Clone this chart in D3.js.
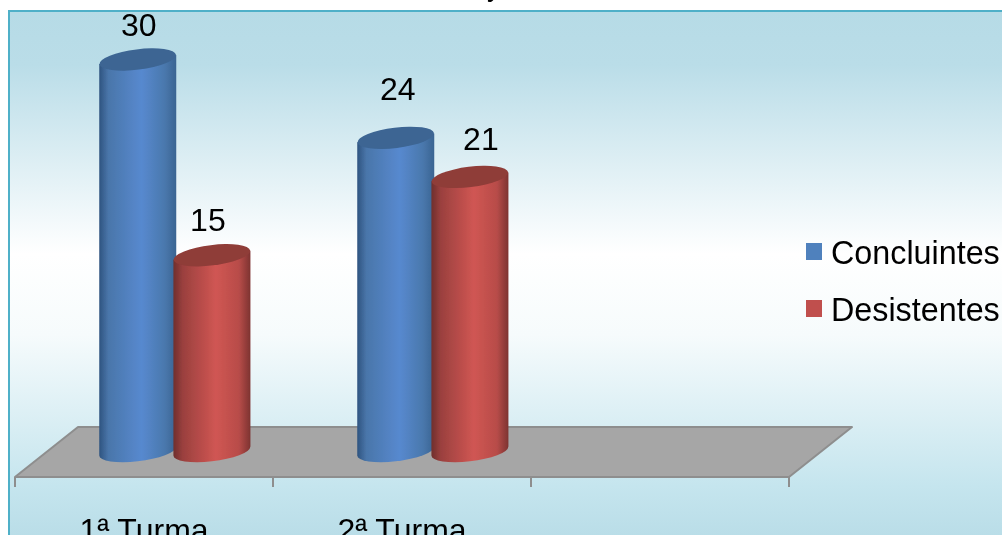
<!DOCTYPE html>
<html><head><meta charset="utf-8">
<script src="https://cdn.jsdelivr.net/npm/d3@7/dist/d3.min.js"></script>
<style>html,body{margin:0;padding:0;background:#fff;overflow:hidden}svg{display:block}text{font-family:"Liberation Sans",Arial,sans-serif;fill:#000}</style>
</head><body><svg id="c" width="1002" height="535"></svg>
<script>
const categories = ["1ª Turma", "2ª Turma", ""];
const seriesNames = ["Concluintes", "Desistentes"];
const concluintes = [30, 24];
const desistentes = [15, 21];
const seriesValues = [concluintes, desistentes];
const titleFragment = "y";
const bodyStops = [0, 0.12, 0.55, 0.85, 1];
const bodyColors = [["#2f5480", "#4a76aa", "#5789cf", "#4a78ad", "#3a6492"], ["#6f2e2c", "#9a403e", "#d05653", "#b84c49", "#7d3331"]];
const topColors = ["#3c6593", "#8f3c39"];
const legendColors = ["#4f81bd", "#c0504d"];
const labelShift = [[[1, -24], [2, -38]], [[-4, -24], [11, -27]]];

const svg = d3.select("#c");
const defs = svg.append("defs");
const bg = defs.append("linearGradient").attr("id", "bg").attr("x1", 0).attr("y1", 0).attr("x2", 0).attr("y2", 1);
[[0, "#b6dbe6"], [0.1, "#badde8"], [0.45, "#ffffff"], [0.6, "#f6fbfc"], [0.88, "#c5e5ee"], [1, "#b6dbe6"]]
  .forEach(([o, c]) => bg.append("stop").attr("offset", o).attr("stop-color", c));
bodyColors.forEach((cols, i) => {
  const g = defs.append("linearGradient").attr("id", "body" + i);
  cols.forEach((c, j) => g.append("stop").attr("offset", bodyStops[j]).attr("stop-color", c));
});
defs.append("filter").attr("id", "soft").attr("x", "-5%").attr("y", "-5%").attr("width", "110%").attr("height", "110%")
  .append("feGaussianBlur").attr("stdDeviation", 0.6);

svg.append("text").attr("x", 487).attr("y", -4).style("font-size", "28px").attr("filter", "url(#soft)").text(titleFragment);

svg.append("rect").attr("x", 9).attr("y", 11).attr("width", 1000).attr("height", 540)
  .attr("fill", "url(#bg)").attr("stroke", "#4fb0c8").attr("stroke-width", 2);

const x = d3.scaleBand().domain(categories).range([15, 789]);
const inner = d3.scaleBand().domain(seriesNames).range([x.bandwidth() * 0.332, x.bandwidth() * 0.907]);
const y = d3.scaleLinear().domain([0, 30]).range([451, 59.5]);

const chart = svg.append("g").attr("filter", "url(#soft)");
const depthX = 63, depthY = 50, floorY = 477;
const [x0, x1] = x.range();
chart.append("path")
  .attr("d", `M${x0},${floorY}L${x1},${floorY}L${x1 + depthX},${floorY - depthY}L${x0 + depthX},${floorY - depthY}Z`)
  .attr("fill", "#a6a6a6").attr("stroke", "#8e8e8e").attr("stroke-width", 2).attr("stroke-linejoin", "round");

const axis = d3.axisBottom(x).tickSize(0).tickPadding(41);
const ax = chart.append("g").attr("transform", `translate(0,${floorY})`).call(axis);
ax.select(".domain").remove();
ax.selectAll("text").style("font-size", "32px").attr("fill", "#000");
const edges = categories.map(c => x(c)).concat([x1]);
chart.selectAll(".tick-mark").data(edges).join("line").attr("class", "tick-mark")
  .attr("x1", d => d).attr("x2", d => d).attr("y1", floorY).attr("y2", floorY + 10)
  .attr("stroke", "#8e8e8e").attr("stroke-width", 2);

const R = 38.5, ry = 10.2, rot = -7, d = 4.4;
const rows = seriesNames.flatMap((s, si) => seriesValues[si].map((v, ci) => ({ s, si, ci, v, cat: categories[ci] })));
const bars = chart.selectAll(".bar").data(rows.slice().sort((a, b) => a.ci - b.ci || a.si - b.si)).join("g").attr("class", "bar");
const cxOf = r => x(r.cat) + inner(r.s) + inner.bandwidth() / 2;
bars.append("path")
  .attr("fill", r => `url(#body${r.si})`)
  .attr("d", r => {
    const cx = cxOf(r), t = y(r.v), b = y(0);
    return `M${cx - R},${t + d}L${cx - R},${b + d}A${R},${ry} ${rot} 0 0 ${cx + R},${b - d}L${cx + R},${t - d}Z`;
  });
bars.append("ellipse")
  .attr("rx", R).attr("ry", ry).attr("fill", r => topColors[r.si])
  .attr("transform", r => `translate(${cxOf(r)},${y(r.v)}) rotate(${rot})`);
bars.append("text").attr("text-anchor", "middle").style("font-size", "32px")
  .attr("x", r => cxOf(r) + labelShift[r.si][r.ci][0])
  .attr("y", r => y(r.v) + labelShift[r.si][r.ci][1])
  .text(r => r.v);

const legendY = d3.scalePoint().domain(seriesNames).range([252, 309]);
const lg = chart.selectAll(".lg").data(seriesNames).join("g").attr("class", "lg");
lg.append("rect").attr("x", 806).attr("width", 16).attr("height", 17)
  .attr("y", s => legendY(s) - 9).attr("fill", (s, i) => legendColors[i]);
lg.append("text").attr("x", 831).attr("y", s => legendY(s) + 12).style("font-size", "32.3px").text(s => s);
</script></body></html>
